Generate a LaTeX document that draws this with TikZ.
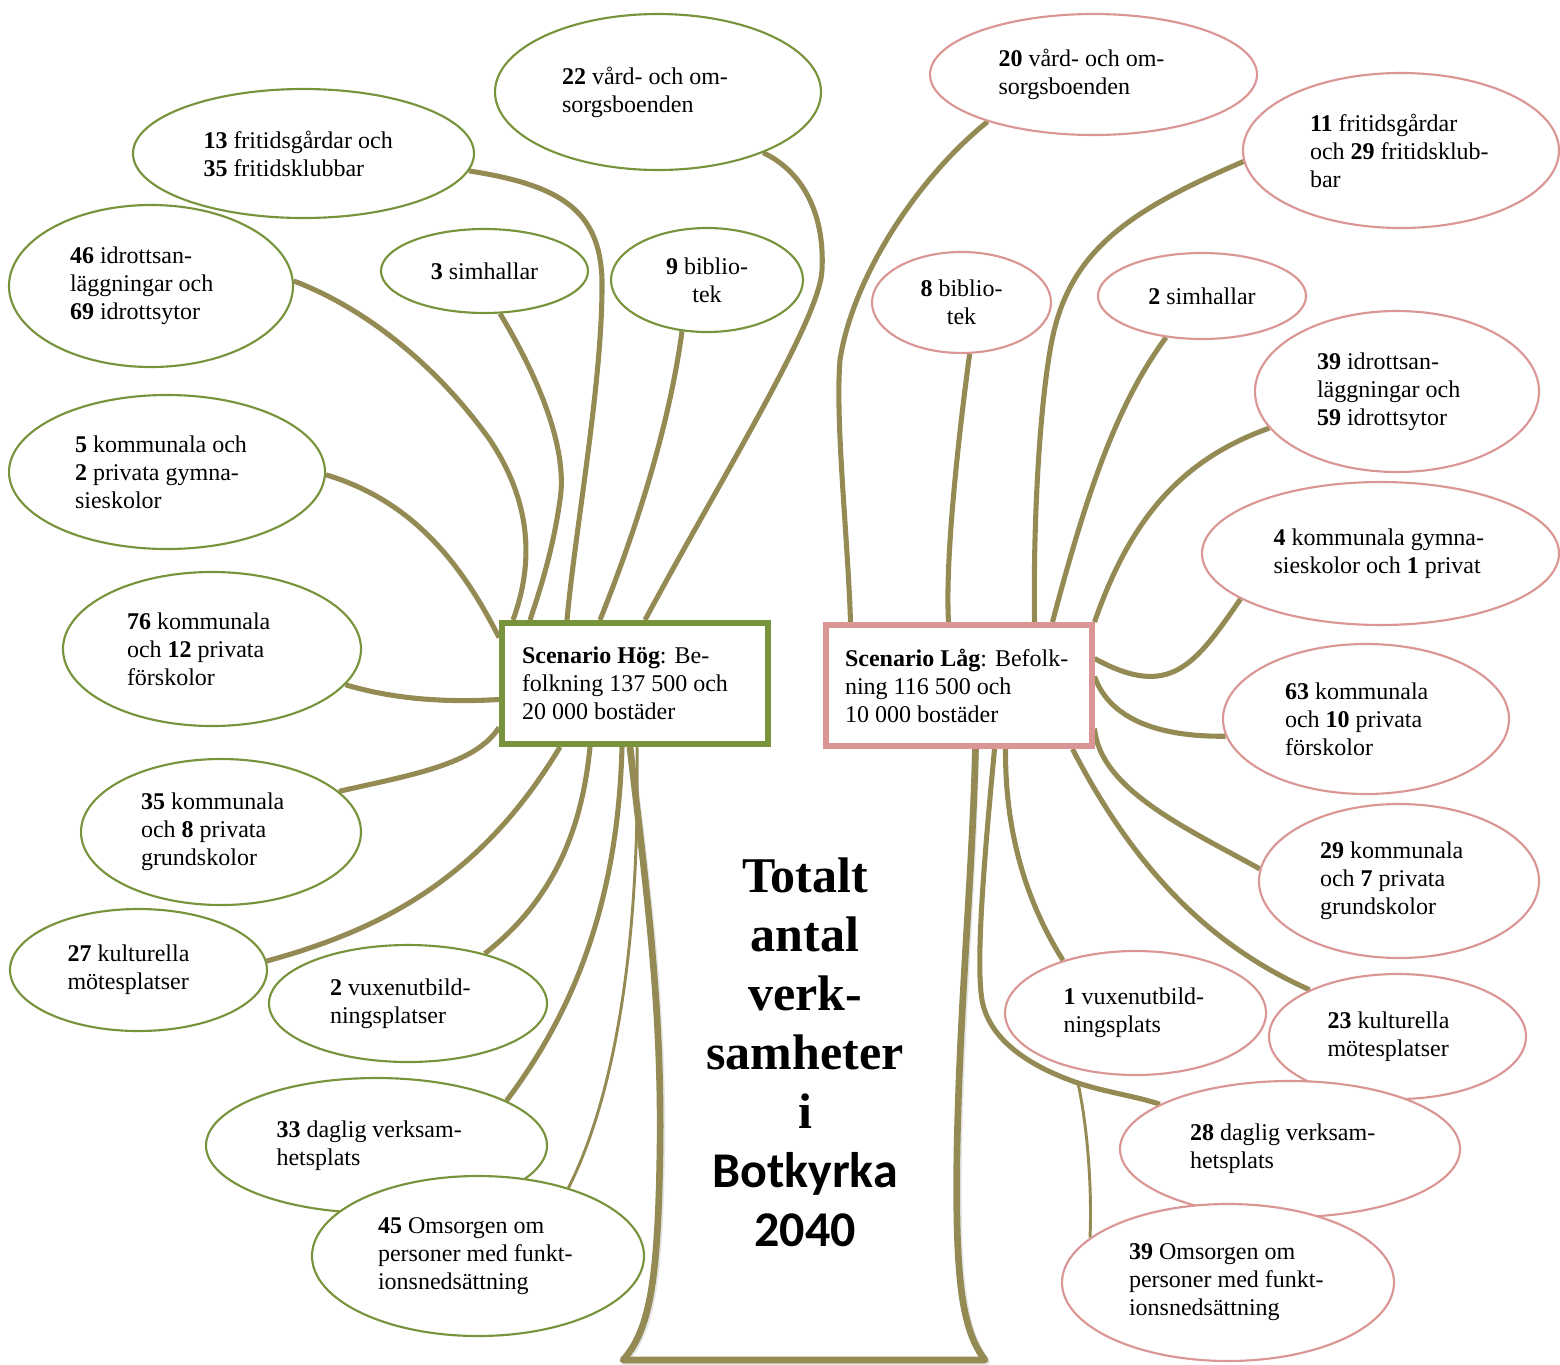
\documentclass[tikz,border=0pt]{standalone}
\usepackage{fontspec}
\setmainfont{Liberation Serif}
\newfontfamily\carlito{Carlito}
\usetikzlibrary{shapes.geometric,calc}
\definecolor{hgreen}{HTML}{77933C}
\definecolor{lpink}{HTML}{D99694}
\definecolor{branch}{HTML}{948A54}
\newcommand\txtsz{\fontsize{18}{21}\selectfont}
\newcommand\titlesz{\fontsize{37.5}{44.25}\selectfont}
\pgfdeclarelayer{background}
\pgfsetlayers{background,main}
\begin{document}
\begin{tikzpicture}[x=0.75pt,y=-0.75pt,
  oval/.style={ellipse, fill=white, line width=1.6pt, inner sep=0pt, align=flush left, font=\txtsz},
  gov/.style={oval, draw=hgreen},
  pov/.style={oval, draw=lpink},
  dims/.style 2 args={minimum width=#1*0.75pt, minimum height=#2*0.75pt},
  tw/.style={text width=#1*0.75pt},
  scen/.style={rectangle, fill=white, line width=4.5pt, inner sep=0pt, align=flush left, font=\txtsz, minimum width=266*0.75pt, minimum height=121*0.75pt},
  twig/.style={draw=branch, line width=3.8pt},
  thintwig/.style={draw=branch, line width=2.2pt},
  trunk/.style={draw=branch, line width=5pt, line join=round},
  trunkshadow/.style={draw=black!40, line width=5.5pt, line join=round, opacity=0.25, xshift=1pt, yshift=-1pt},
]
\useasboundingbox (0,0) rectangle (1560,1364);

% Scenario boxes
\node[scen, draw=hgreen, tw=226] (hog) at (635,683.5) {\textbf{Scenario Hög}: Be-\\folkning 137 500 och\\20 000 bostäder};
\node[scen, draw=lpink, tw=227] (lag) at (958.5,685.5) {\textbf{Scenario Låg}: Befolk-\\ning 116 500 och\\10 000 bostäder};

% Left (Hög) ellipses
\node[gov, dims={326}{156}, tw=192] (L1) at (658,92) {\textbf{22} vård- och om-\\sorgsboenden};
\node[gov, dims={341}{129}, tw=200] (L2) at (303.5,153.5) {\textbf{13} fritidsgårdar och\\\textbf{35} fritidsklubbar};
\node[gov, dims={284}{162}, tw=162] (L3) at (151,286) {\textbf{46} idrottsan-\\läggningar och\\\textbf{69} idrottsytor};
\node[gov, dims={207}{84}, align=center] (L4) at (484.5,271) {\textbf{3} simhallar};
\node[gov, dims={192}{104}, align=center] (L5) at (707,280) {\textbf{9} biblio-\\tek};
\node[gov, dims={316}{154}, tw=184] (L6) at (167,472) {\textbf{5} kommunala och\\\textbf{2} privata gymna-\\sieskolor};
\node[gov, dims={298}{154}, tw=170] (L7) at (212,649) {\textbf{76} kommunala\\och \textbf{12} privata\\förskolor};
\node[gov, dims={280}{146}, tw=160] (L8) at (221,832) {\textbf{35} kommunala\\och \textbf{8} privata\\grundskolor};
\node[gov, dims={257}{122}, tw=142] (L9) at (138.5,970) {\textbf{27} kulturella\\mötesplatser};
\node[gov, dims={278}{117}, tw=156] (L10) at (408,1003.5) {\textbf{2} vuxenutbild-\\ningsplatser};
\node[gov, dims={341}{135}, tw=200] (L11) at (376.5,1145.5) {\textbf{33} daglig verksam-\\hetsplats};
\node[gov, dims={332}{160}, tw=200] (L12) at (478,1256) {\textbf{45} Omsorgen om\\\mbox{personer med funkt-}\\ionsnedsättning};

% Right (Låg) ellipses
\node[pov, dims={327}{121}, tw=190] (R1) at (1093.5,74.5) {\textbf{20} vård- och om-\\sorgsboenden};
\node[pov, dims={316}{155}, tw=182] (R2) at (1401,150.5) {\textbf{11} fritidsgårdar\\\mbox{och \textbf{29} fritidsklub-}\\bar};
\node[pov, dims={179}{101}, align=center] (R3) at (961.5,302.5) {\textbf{8} biblio-\\tek};
\node[pov, dims={208}{86}, align=center] (R4) at (1202,296) {\textbf{2} simhallar};
\node[pov, dims={284}{161}, tw=160] (R5) at (1397,391.5) {\textbf{39} idrottsan-\\läggningar och\\\textbf{59} idrottsytor};
\node[pov, dims={357}{143}, tw=214] (R6) at (1380.5,553.5) {\mbox{\textbf{4} kommunala gymna-}\\sieskolor och \textbf{1} privat};
\node[pov, dims={286}{150}, tw=162] (R7) at (1366,719) {\textbf{63} kommunala\\och \textbf{10} privata\\förskolor};
\node[pov, dims={280}{154}, tw=158] (R8) at (1399,881) {\textbf{29} kommunala\\och \textbf{7} privata\\grundskolor};
\node[pov, dims={261}{124}, tw=144] (R9) at (1135.5,1013) {\textbf{1} vuxenutbild-\\ningsplats};
\node[pov, dims={257}{125}, tw=140] (R10) at (1397.5,1036.5) {\textbf{23} kulturella\\mötesplatser};
\node[pov, dims={340}{136}, tw=200] (R11) at (1290,1149) {\textbf{28} daglig verksam-\\hetsplats};
\node[pov, dims={332}{157}, tw=198] (R12) at (1228,1282.5) {\textbf{39} Omsorgen om\\\mbox{personer med funkt-}\\ionsnedsättning};

% Title in the trunk
\node[align=center, font=\titlesz\bfseries] (title) at (805,1052) {Totalt\\antal\\verk-\\samheter\\i\\{\carlito Botkyrka}\\{\carlito 2040}};

\coordinate (jR) at (1078,1083);

\begin{pgfonlayer}{background}
% trunk
\draw[trunkshadow] ($(hog.south)+(-5,0)$) .. controls (645,880) and (662,1000) .. (660,1150) .. controls (658,1280) and (650,1330) .. (623,1360) -- (985,1360) .. controls (962,1330) and (955,1280) .. (957,1150) .. controls (960,1000) and (972,880) .. ($(lag.south)+(17,0)$);
\draw[trunk] ($(hog.south)+(-5,0)$) .. controls (645,880) and (662,1000) .. (660,1150) .. controls (658,1280) and (650,1330) .. (623,1360) -- (985,1360) .. controls (962,1330) and (955,1280) .. (957,1150) .. controls (960,1000) and (972,880) .. ($(lag.south)+(17,0)$);

% left branches
\draw[twig] (L1.-30) .. controls (800,170) and (825,210) .. (822,270) .. controls (820,320) and (720,480) .. ($(hog.north)+(10,0)$);
\draw[twig] (L2.-6) .. controls (560,185) and (600,210) .. (602,280) .. controls (603,380) and (575,530) .. ($(hog.north)+(-68,0)$);
\draw[twig] (L3.2) .. controls (370,310) and (440,370) .. (490,440) .. controls (530,500) and (535,560) .. ($(hog.north)+(-122,0)$);
\draw[twig] (L4.-70) .. controls (540,380) and (568,450) .. (560,500) .. controls (553,550) and (540,590) .. ($(hog.north)+(-105,0)$);
\draw[twig] (L5.-116) .. controls (670,420) and (640,520) .. ($(hog.north)+(-35,0)$);
\draw[twig] (L6.-1) .. controls (410,500) and (460,560) .. ($(hog.west)+(0,-46)$);
\draw[twig] (L7.-15) .. controls (390,698) and (440,703) .. ($(hog.west)+(0,16)$);
\draw[twig] (L8.19) .. controls (410,775) and (475,765) .. ($(hog.west)+(0,44)$);
\draw[twig] (L9.4) .. controls (380,930) and (480,880) .. ($(hog.south)+(-75,0)$);
\draw[twig] (L10.33) .. controls (540,910) and (580,850) .. ($(hog.south)+(-45,0)$);
\draw[twig] (L11.19) .. controls (575,1010) and (618,900) .. ($(hog.south)+(-13,0)$);
\draw[thintwig] (L12.37) .. controls (618,1090) and (640,930) .. ($(hog.south)+(2,0)$);

% right branches
\draw[twig] (R1.-156) .. controls (915,180) and (852,280) .. (840,360) .. controls (835,420) and (848,540) .. ($(lag.north)+(-108,0)$);
\draw[twig] (R2.-176) .. controls (1130,210) and (1070,250) .. (1052,340) .. controls (1040,400) and (1033,520) .. ($(lag.north)+(76,0)$);
\draw[twig] (R3.-81) .. controls (958,440) and (945,560) .. ($(lag.north)+(-10,0)$);
\draw[twig] (R4.-131) .. controls (1120,400) and (1090,480) .. ($(lag.north)+(94,0)$);
\draw[twig] (R5.-164) .. controls (1180,460) and (1130,520) .. (lag.north east);
\draw[twig] (R6.-162) .. controls (1195,665) and (1170,700) .. ($(lag.east)+(0,-27)$);
\draw[twig] (R7.-173) .. controls (1160,737) and (1110,720) .. ($(lag.east)+(0,-9)$);
\draw[twig] (R8.175) .. controls (1190,830) and (1100,790) .. ($(lag.east)+(0,43)$);
\draw[twig] (R9.144) .. controls (1025,900) and (1005,830) .. ($(lag.south)+(47,0)$);
\draw[twig] (R10.152) .. controls (1220,950) and (1140,880) .. ($(lag.south)+(114,0)$);
\draw[twig] (R11.161) .. controls (1135,1096) and (1105,1092) .. (jR) .. controls (1040,1070) and (990,1045) .. (982,1000) .. controls (975,960) and (986,840) .. ($(lag.south)+(36,0)$);
\draw[thintwig] (jR) .. controls (1088,1130) and (1092,1190) .. (R12.162);
\end{pgfonlayer}
\end{tikzpicture}
\end{document}
